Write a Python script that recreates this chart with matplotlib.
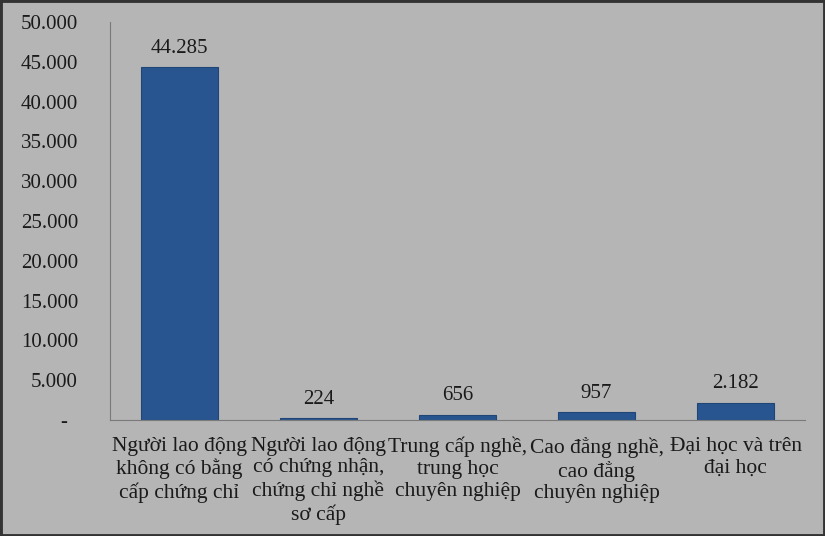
import matplotlib
matplotlib.use("Agg")
import matplotlib.pyplot as plt
from matplotlib.patches import Rectangle

categories = [
    "Người lao động\nkhông có bằng\ncấp chứng chỉ",
    "Người lao động\ncó chứng nhận,\nchứng chỉ nghề\nsơ cấp",
    "Trung cấp nghề,\ntrung học\nchuyên nghiệp",
    "Cao đẳng nghề,\ncao đẳng\nchuyên nghiệp",
    "Đại học và trên\nđại học",
]
values = [44285, 224, 656, 957, 2182]
value_labels = ["44.285", "224", "656", "957", "2.182"]
yticks = [0, 5000, 10000, 15000, 20000, 25000, 30000, 35000, 40000, 45000, 50000]
ytick_labels = ["-  ", "5.000", "10.000", "15.000", "20.000", "25.000",
                "30.000", "35.000", "40.000", "45.000", "50.000"]

plt.rcParams['font.family'] = ['Liberation Serif', 'DejaVu Serif']

bg = "#b5b5b5"
fig = plt.figure(figsize=(8.25, 5.36), dpi=100, facecolor=bg)
ax = fig.add_axes([0.1333, 0.2164, 0.8425, 0.7426])
ax.set_facecolor(bg)

x = range(len(categories))
bars = ax.bar(x, values, width=0.56, color="#28558f", edgecolor="#1f4677", linewidth=0.8)

for i, b in enumerate(bars):
    ax.annotate(value_labels[i], (b.get_x() + b.get_width() / 2, b.get_height()),
                xytext=(0, 7), textcoords="offset points", ha="center", va="bottom",
                fontsize=15, color="#1a1a1a")

ax.set_xlim(-0.5, len(categories) - 0.5)
ax.set_ylim(0, 50000)
ax.set_yticks(yticks)
ax.set_yticklabels(ytick_labels, fontsize=15, color="#1a1a1a")
ax.set_xticks(list(x))
ax.set_xticklabels(categories, fontsize=15.5, color="#1a1a1a", linespacing=1.2)
ax.tick_params(axis="y", length=0, pad=23)
ax.tick_params(axis="x", length=0, pad=12)

for s in ["top", "right"]:
    ax.spines[s].set_visible(False)
ax.spines["left"].set_color("#7a7a7a")
ax.spines["bottom"].set_color("#7a7a7a")

fig.patches.append(Rectangle((0, 0), 1, 1, transform=fig.transFigure, fill=False,
                             edgecolor="#333333", linewidth=3.5))

fig.savefig("out.png", dpi=100, facecolor=bg)
